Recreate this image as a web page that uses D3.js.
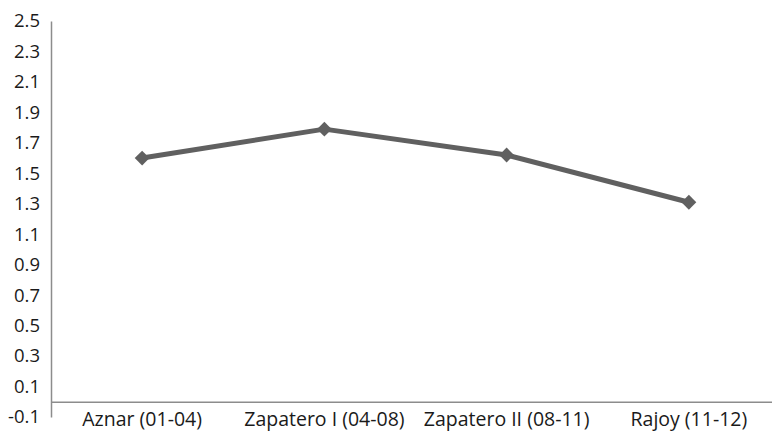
<!DOCTYPE html>
<html><head><meta charset="utf-8">
<script src="https://cdn.jsdelivr.net/npm/d3@7"></script>
<style>body{margin:0;background:#fff;overflow:hidden}svg{display:block}</style>
</head><body>
<svg id="c" width="772" height="434"></svg>
<script>
const categories = ["Aznar (01-04)", "Zapatero I (04-08)", "Zapatero II (08-11)", "Rajoy (11-12)"];
const values = [1.60, 1.79, 1.62, 1.31];
const yTicks = [-0.1, 0.1, 0.3, 0.5, 0.7, 0.9, 1.1, 1.3, 1.5, 1.7, 1.9, 2.1, 2.3, 2.5];

const svg = d3.select("#c");
const font = "'Open Sans', sans-serif";
const x = d3.scaleBand().domain(categories).range([51, 780]);
const y = d3.scaleLinear().domain([-0.1, 2.5]).range([417, 21]);

// y axis
const yAxis = d3.axisLeft(y).tickValues(yTicks).tickSize(0).tickPadding(11)
  .tickFormat(d => d.toFixed(1));
const gy = svg.append("g").attr("transform", "translate(51,0)").call(yAxis);
gy.select(".domain").attr("stroke", "#8c8c8c").attr("stroke-width", 1.5);
gy.selectAll("text").attr("font-family", font).attr("font-size", 18.5).attr("fill", "#1a1a1a");

// x axis at 0
const xAxis = d3.axisBottom(x).tickSize(0).tickPadding(10.5);
const gx = svg.append("g").attr("transform", `translate(0,${y(0)})`).call(xAxis);
gx.select(".domain").attr("stroke", "#8c8c8c").attr("stroke-width", 1.5);
gx.selectAll("text").attr("font-family", font).attr("font-size", 19.5).attr("fill", "#1a1a1a");

const cx = d => x(d) + x.bandwidth() / 2;
const line = d3.line().x((d, i) => cx(categories[i])).y(d => y(d));
svg.append("path").datum(values).attr("d", line)
  .attr("fill", "none").attr("stroke", "#606060").attr("stroke-width", 5).attr("stroke-linejoin", "round");

svg.selectAll(".m").data(values).enter().append("path")
  .attr("d", d3.symbol().type(d3.symbolSquare).size(110))
  .attr("transform", (d, i) => `translate(${cx(categories[i])},${y(d)}) rotate(45)`)
  .attr("fill", "#606060");
</script>
</body></html>
